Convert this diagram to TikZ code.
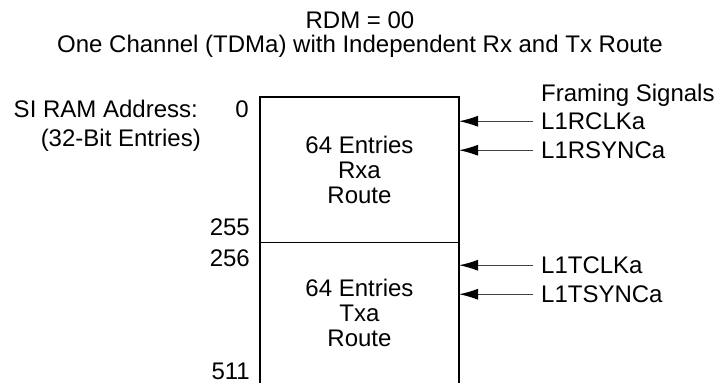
\documentclass[tikz,border=0pt]{standalone}
\usepackage{fontspec}
\setmainfont{Liberation Sans}
\usetikzlibrary{arrows.meta,positioning}

\begin{document}
\begin{tikzpicture}[x=1pt,y=-1pt,font=\fontsize{24}{25}\selectfont,>=Latex]
  \tikzset{route/.style={minimum width=199pt,minimum height=145pt,align=center,inner sep=0pt,outer sep=0pt},
    addr/.style={anchor=base east,inner sep=0pt},
    signal/.style={anchor=base west,inner sep=0pt},
    framing/.style={-{Latex[length=19pt,width=11pt,color=black]},line width=1pt,draw=black!75}}
  \useasboundingbox (0,0) rectangle (720,383);
  \node[anchor=base] (mode) at (360,28) {RDM = 00};
  \node[anchor=base] (title) at (360,52) {One Channel (TDMa) with Independent Rx and Tx Route};
  \node[route] (rxa) at (359.5,169.5) {64 Entries\\Rxa\\Route};
  \node[route,minimum height=141pt,below=0pt of rxa] (txa) {64 Entries\\Txa\\Route};
  \draw[line width=2pt] (txa.south west) |- (rxa.north east) -- (txa.south east);
  \draw[line width=1pt] (rxa.south west) -- (rxa.south east);
  \node[addr] (siram) at (198,117) {SI RAM Address:};
  \node[addr] (entries) at (201,146) {(32-Bit Entries)};
  \node[addr] (a0) at (249,117) {0};
  \node[addr] (a255) at (250,235) {255};
  \node[addr] (a256) at (250,266) {256};
  \node[addr] (a511) at (250,379) {511};
  \node[signal] (frsig) at (541,101) {Framing Signals};
  \node[signal] (rclk) at (541,129.5) {L1RCLKa};
  \node[signal] (rsync) at (541,158.5) {L1RSYNCa};
  \node[signal] (tclk) at (541,273.5) {L1TCLKa};
  \node[signal] (tsync) at (541,302.5) {L1TSYNCa};
  \draw[framing] ([xshift=-8pt]rclk.west) -- (rclk.west -| rxa.east);
  \draw[framing] ([xshift=-8pt]rsync.west) -- (rsync.west -| rxa.east);
  \draw[framing] ([xshift=-8pt]tclk.west) -- (tclk.west -| txa.east);
  \draw[framing] ([xshift=-8pt]tsync.west) -- (tsync.west -| txa.east);
\end{tikzpicture}
\end{document}
